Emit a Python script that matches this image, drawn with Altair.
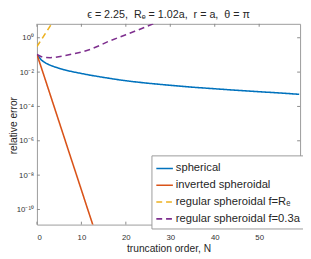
import altair as alt
import pandas as pd
import math

# ---------------- data ----------------
series_names = [
    "spherical",
    "inverted spheroidal",
    "regular spheroidal f=R\u2091",
    "regular spheroidal f=0.3a",
]
series_colors = ["#0072BD", "#D95319", "#EDB120", "#7E2F8E"]

spherical_N = [0, 1, 2, 3, 4, 5, 6, 7, 8, 10, 12, 15, 18, 21, 25, 30, 35, 40, 45, 50, 55, 59]
spherical_err = [1.07e-1, 5.0e-2, 3.3e-2, 2.5e-2, 2.0e-2, 1.66e-2, 1.38e-2, 1.2e-2, 1.05e-2,
                 8.3e-3, 6.6e-3, 4.9e-3, 3.7e-3, 2.9e-3, 2.24e-3, 1.7e-3, 1.32e-3, 1.07e-3,
                 8.7e-4, 7.2e-4, 6.0e-4, 5.1e-4]

inverted_N = [0, 1, 2, 3, 4, 5, 6, 7, 8, 9, 10, 11, 12, 13, 14]
inverted_err = [1.07e-1, 1.78e-2, 2.9e-3, 4.7e-4, 7.6e-5, 1.23e-5, 2.0e-6, 3.2e-7, 5.2e-8,
                8.5e-9, 1.38e-9, 2.2e-10, 3.6e-11, 5.9e-12, 9.5e-13]

regular_re_N = [0, 1, 2, 3, 4]
regular_re_err = [3.1e-1, 7.8e-1, 1.95, 4.9, 12.3]

regular_03_N = [0, 1, 2, 3, 4, 6, 8, 10, 12, 14, 16, 18, 20, 22, 24, 26, 28]
regular_03_err = [1.05e-1, 7.9e-2, 7.1e-2, 6.9e-2, 7.2e-2, 8.7e-2, 1.12e-1, 1.45e-1, 2.1e-1,
                  3.4e-1, 6.0e-1, 9.5e-1, 1.51, 2.4, 3.8, 6.2, 10.0]

x_ticks = [0, 10, 20, 30, 40, 50]
y_ticks = [1e-10, 1e-8, 1e-6, 1e-4, 1e-2, 1]
y_tick_labels = ["10\u207b\u00b9\u2070", "10\u207b\u2078", "10\u207b\u2076",
                 "10\u207b\u2074", "10\u207b\u00b2", "10\u2070"]

SP = "\u00a0\u00a0"
title_text = ("\u03f5 = 2.25," + SP + "R\u2091 = 1.02a," + SP + "r = a," + SP + "\u03b8 = \u03c0")

# ---------------- build tables ----------------
rows = []
for name, ns, vs in [
    (series_names[0], spherical_N, spherical_err),
    (series_names[1], inverted_N, inverted_err),
    (series_names[2], regular_re_N, regular_re_err),
    (series_names[3], regular_03_N, regular_03_err),
]:
    for n, v in zip(ns, vs):
        rows.append({"N": n, "err": v, "series": name})
df = pd.DataFrame(rows)

xt = pd.DataFrame({"t": x_ticks})
yt = pd.DataFrame({"t": y_ticks})

W, H = 270, 206
FONT = "Liberation Sans"
X_DOMAIN = [0, 59.2]
Y_DOMAIN = [1.32e-11, 6.46]

label_expr = ""
for v, lab in zip(y_ticks, y_tick_labels):
    e = int(round(math.log10(v)))
    label_expr += f"abs(log(datum.value)/LN10 - ({e})) < 0.01 ? '{lab}' : "
label_expr += "''"

xscale = alt.Scale(domain=X_DOMAIN, nice=False, zero=False)
yscale = alt.Scale(type="log", domain=Y_DOMAIN, nice=False)

lines = alt.Chart(df).mark_line(clip=True, strokeWidth=1.6).encode(
    x=alt.X("N:Q", scale=xscale,
            axis=alt.Axis(values=x_ticks, title="truncation order, N", labelPadding=9,
                          titleY=28, titleBaseline="alphabetic")),
    y=alt.Y("err:Q", scale=yscale,
            axis=alt.Axis(values=y_ticks, labelExpr=label_expr, title="relative error",
                          labelPadding=3.5, titleX=-21, titleY=104,
                          titleBaseline="alphabetic", titleAngle=-90)),
    color=alt.Color("series:N", sort=series_names,
                    scale=alt.Scale(domain=series_names, range=series_colors),
                    legend=alt.Legend(title=None)),
    strokeDash=alt.StrokeDash("series:N", sort=series_names,
                              scale=alt.Scale(domain=series_names,
                                              range=[[1, 0], [1, 0], [6, 4], [6, 4]]),
                              legend=alt.Legend(title=None)),
    detail="series:N",
    order="N:Q",
)

tick_color = "#8a8a8a"
bottom_ticks = alt.Chart(xt).mark_rule(color=tick_color, strokeWidth=1).encode(
    x=alt.X("t:Q", scale=xscale), y=alt.value(H), y2=alt.value(H - 3))
top_ticks = alt.Chart(xt).mark_rule(color=tick_color, strokeWidth=1).encode(
    x=alt.X("t:Q", scale=xscale), y=alt.value(0), y2=alt.value(3))
left_ticks = alt.Chart(yt).mark_rule(color=tick_color, strokeWidth=1).encode(
    y=alt.Y("t:Q", scale=yscale), x=alt.value(0), x2=alt.value(3))
right_ticks = alt.Chart(yt).mark_rule(color=tick_color, strokeWidth=1).encode(
    y=alt.Y("t:Q", scale=yscale), x=alt.value(W), x2=alt.value(W - 3))

chart = alt.layer(lines, bottom_ticks, top_ticks, left_ticks, right_ticks).properties(
    width=W,
    height=H,
    title=alt.TitleParams(title_text, fontSize=11, font=FONT, fontWeight="normal",
                          color="#262626", anchor="middle", frame="group", offset=4),
    autosize=alt.AutoSizeParams(type="none"),
    padding={"left": 29.7, "top": 13, "right": 3, "bottom": 30},
).configure_view(
    stroke="#9a9a9a", strokeWidth=1
).configure_axis(
    domain=False, ticks=False, grid=False,
    labelFont=FONT, labelFontSize=8, labelColor="#333333",
    titleFont=FONT, titleFontSize=10.5, titleColor="#262626", titleFontWeight="normal",
).configure_legend(
    orient="none", legendX=117.5, legendY=135,
    symbolType="stroke", symbolSize=289, symbolStrokeWidth=1.6,
    labelFont=FONT, labelFontSize=11.5, labelColor="#262626", labelOffset=2,
    rowPadding=2.2, padding=4,
    fillColor="white", strokeColor="#9a9a9a", strokeWidth=1, cornerRadius=0,
)

chart.save("out.html", embed_options={"renderer": "svg", "actions": False})
